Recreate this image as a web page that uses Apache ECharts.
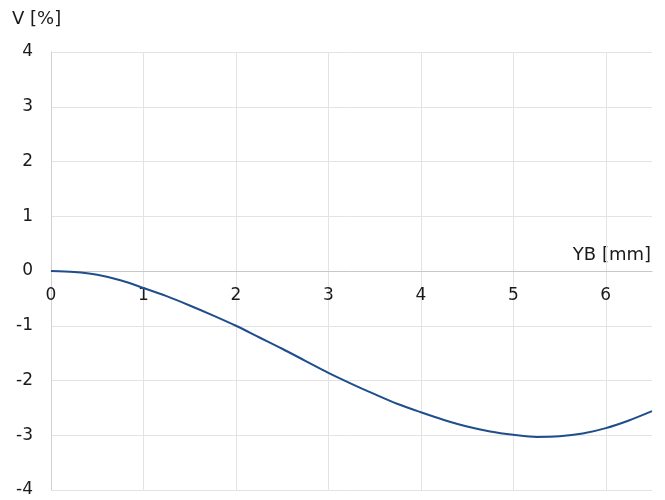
<!DOCTYPE html>
<html>
<head>
<meta charset="utf-8">
<script src="https://cdn.jsdelivr.net/npm/echarts@6/dist/echarts.min.js"></script>
<style>
  html, body { margin: 0; padding: 0; background: #fff; }
  #echarts_id { width: 665px; height: 500px; }
</style>
</head>
<body>
<div id="echarts_id"></div>
<script>
// YB [mm] 与 V [%] 的读数
var ybValues = [0, 0.25, 0.5, 0.75, 1, 1.25, 1.5, 1.75, 2, 2.25, 2.5, 2.75, 3, 3.25,
                3.5, 3.75, 4, 4.25, 4.5, 4.75, 5, 5.25, 5.5, 5.75, 6, 6.25, 6.5];
var vValues = [0, -0.02, -0.07, -0.17, -0.31, -0.46, -0.63, -0.81, -1.0, -1.21, -1.42, -1.64, -1.86, -2.06,
               -2.25, -2.43, -2.58, -2.72, -2.84, -2.93, -2.99, -3.03, -3.02, -2.97, -2.87, -2.73, -2.56];
var xTicks = [0, 1, 2, 3, 4, 5, 6];
var yTicks = [-4, -3, -2, -1, 0, 1, 2, 3, 4];

var points = ybValues.map(function (x, i) { return [x, vValues[i]]; });

var myChart = echarts.init(document.getElementById('echarts_id'));

var font = '"DejaVu Sans", sans-serif';
var plotTop = 52, plotBottom = 10, plotHeight = 500 - plotTop - plotBottom;
// 把 x 轴（含标签）移到 y = 0 的位置
var zeroOffset = -plotHeight * (0 - yTicks[0]) / (yTicks[yTicks.length - 1] - yTicks[0]);

option = {
    animation: false,
    grid: { left: 51, right: 13, top: plotTop, bottom: plotBottom, containLabel: false, outerBoundsMode: 'none' },
    graphic: [
        { type: 'text', left: 12, top: 10, style: { text: 'V [%]', font: '18px ' + font, fill: '#1a1a1a' } },
        { type: 'text', right: 14, top: 246, style: { text: 'YB [mm]', font: '18px ' + font, fill: '#1a1a1a' } }
    ],
    xAxis: {
        type: 'value',
        min: 0,
        max: 6.5,
        interval: 1,
        position: 'bottom',
        offset: zeroOffset,
        axisLine: { onZero: false, lineStyle: { color: '#c8c8c8', width: 1 } },
        axisTick: { show: false },
        axisLabel: {
            margin: 16,
            color: '#1a1a1a',
            fontSize: 17,
            fontFamily: font,
            formatter: function (v) { return xTicks.indexOf(v) >= 0 ? String(v) : ''; }
        },
        splitLine: { show: true, lineStyle: { color: ['#e3e3e3', '#e3e3e3', '#e3e3e3', '#e3e3e3', '#e3e3e3', '#e3e3e3', '#e3e3e3', 'rgba(0,0,0,0)'] } }
    },
    yAxis: {
        type: 'value',
        min: yTicks[0],
        max: yTicks[yTicks.length - 1],
        interval: 1,
        axisLine: { show: true, lineStyle: { color: '#d0d0d0', width: 1 } },
        axisTick: { show: false },
        axisLabel: { margin: 18, color: '#1a1a1a', fontSize: 17, fontFamily: font },
        splitLine: { show: true, lineStyle: { color: '#e3e3e3' } }
    },
    series: [{
        type: 'line',
        data: points,
        smooth: 0.3,
        showSymbol: false,
        lineStyle: { color: '#1f4e8c', width: 2 }
    }]
};

myChart.setOption(option);
</script>
</body>
</html>
